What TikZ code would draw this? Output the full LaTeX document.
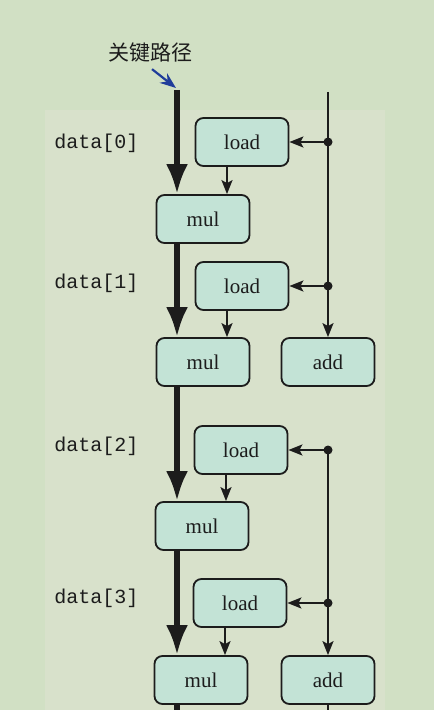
\documentclass[tikz,border=0pt]{standalone}
\usepackage{fontspec}
\setmainfont{Liberation Serif}
\newfontfamily\monofont{Liberation Mono}
\newfontfamily\cjk{Noto Sans CJK SC}
\usetikzlibrary{arrows.meta}
\definecolor{bgouter}{HTML}{D1E0C4}
\definecolor{bginner}{HTML}{D8E1CB}
\definecolor{boxfill}{HTML}{C3E3D6}
\definecolor{ink}{HTML}{1C1C1C}
\definecolor{pointer}{HTML}{1F3C9A}
\begin{document}
\begin{tikzpicture}[x=0.5pt,y=-0.5pt,
        opbox/.style={rectangle, rounded corners=4pt, draw=ink, fill=boxfill, line width=0.9pt,
          minimum width=46.5pt, minimum height=24pt, inner sep=0pt, text=ink, font=\fontsize{10.5}{12}\selectfont},
        datalabel/.style={anchor=west, inner sep=0pt, text=ink, font=\monofont\fontsize{10}{12}\selectfont},
        critpath/.style={line width=2.6pt, draw=ink, -{Latex[length=15pt,width=11pt]}},
        critline/.style={line width=2.6pt, draw=ink},
        flow/.style={line width=0.9pt, draw=ink, -{Stealth[length=7pt,width=5.5pt,inset=1.5pt]}},
        bus/.style={line width=0.9pt, draw=ink},
        dot/.style={circle, fill=ink, inner sep=0pt, minimum size=4.5pt},
      ]
      \useasboundingbox (0,0) rectangle (434,710);
      \fill[bgouter] (0,0) rectangle (434,710);
      \fill[bginner] (45,110) rectangle (385,710);

      %Nodes
      \node[inner sep=0pt, text=ink, font=\cjk\fontsize{10.5}{12}\selectfont] (title) at (150,53) {关键路径};
      \coordinate (crit)   at (177,90);
      \coordinate (bustop) at (328,92);
      \coordinate (critend) at (177,710);
      \coordinate (busend)  at (328,710);

      \node[datalabel] (lab0) at (54,143) {data[0]};
      \node[datalabel] (lab1) at (54,283) {data[1]};
      \node[datalabel] (lab2) at (54,446) {data[2]};
      \node[datalabel] (lab3) at (54,598) {data[3]};

      \node[opbox] (load1) at (242,142) {load};
      \node[opbox] (load2) at (242,286) {load};
      \node[opbox] (load3) at (241,450) {load};
      \node[opbox] (load4) at (240,603) {load};

      \node[opbox] (mul1) at (203,219) {mul};
      \node[opbox] (mul2) at (203,362) {mul};
      \node[opbox] (mul3) at (202,526) {mul};
      \node[opbox] (mul4) at (201,680) {mul};

      \node[opbox] (add1) at (328,362) {add};
      \node[opbox] (add2) at (328,680) {add};

      \node[dot] (d1) at (load1.east -| bustop) {};
      \node[dot] (d2) at (load2.east -| bustop) {};
      \node[dot] (d3) at (load3.east -| bustop) {};
      \node[dot] (d4) at (load4.east -| bustop) {};

      %Lines
      \draw[-{Stealth[length=8pt,width=6pt]}, pointer, line width=1.1pt]
        ([xshift=1pt,yshift=-3pt]title.south) -- ([xshift=-0.5pt,yshift=1pt]crit);

      \draw[critpath] (crit) -- (crit |- mul1.north);
      \draw[critpath] (mul1.south -| crit) -- (mul2.north -| crit);
      \draw[critpath] (mul2.south -| crit) -- (mul3.north -| crit);
      \draw[critpath] (mul3.south -| crit) -- (mul4.north -| crit);
      \draw[critline] (mul4.south -| crit) -- (critend);

      \draw[flow] ([xshift=-7.5pt]load1.south) -- ([xshift=-7.5pt]load1.south |- mul1.north);
      \draw[flow] ([xshift=-7.5pt]load2.south) -- ([xshift=-7.5pt]load2.south |- mul2.north);
      \draw[flow] ([xshift=-7.5pt]load3.south) -- ([xshift=-7.5pt]load3.south |- mul3.north);
      \draw[flow] ([xshift=-7.5pt]load4.south) -- ([xshift=-7.5pt]load4.south |- mul4.north);

      \draw[bus] (bustop) -- (d1.center) -- (d2.center);
      \draw[flow] (d1.center) -- (load1.east);
      \draw[flow] (d2.center) -- (load2.east);
      \draw[flow] (d2.center) -- (add1.north);

      \draw[bus] (d3.center) -- (d4.center);
      \draw[flow] (d3.center) -- (load3.east);
      \draw[flow] (d4.center) -- (load4.east);
      \draw[flow] (d4.center) -- (add2.north);
      \draw[bus] (add2.south) -- (busend);
    \end{tikzpicture}
\end{document}
